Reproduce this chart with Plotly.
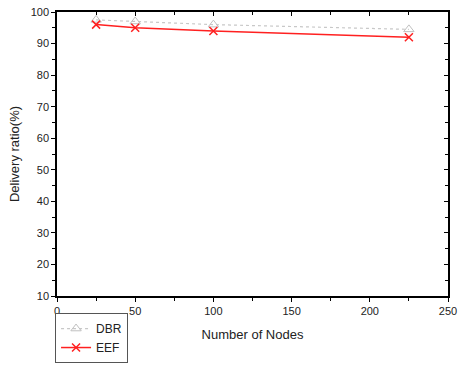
import plotly.graph_objects as go

nodes = [25, 50, 100, 225]
dbr = [97.5, 97, 96, 94.5]
eef = [96, 95, 94, 92]

font = "Liberation Sans, Arial, sans-serif"

fig = go.Figure()
fig.add_trace(go.Scatter(x=nodes, y=dbr, name="DBR", mode="lines+markers",
                         line=dict(color="#c8c8c8", width=1.2, dash="dot"),
                         marker=dict(symbol="triangle-up-open", size=9, color="#c0c0c0",
                                     line=dict(width=1, color="#c0c0c0"))))
fig.add_trace(go.Scatter(x=nodes, y=eef, name="EEF", mode="lines+markers",
                         line=dict(color="#ff2020", width=1.5),
                         marker=dict(symbol="x-thin-open", size=8, color="#ff2020",
                                     line=dict(width=1.5, color="#ff2020"))))
# invisible trace for mirrored axes
fig.add_trace(go.Scatter(x=[0], y=[10], xaxis="x2", yaxis="y2", mode="markers",
                         marker=dict(opacity=0), showlegend=False, hoverinfo="skip"))

axis_common = dict(showgrid=False, zeroline=False, showline=True, linecolor="black",
                   linewidth=1.5, tickcolor="black", ticklen=4, tickwidth=1,
                   automargin=False,
                   tickfont=dict(family=font, size=11, color="#222"))

fig.update_layout(
    width=470, height=375,
    margin=dict(l=57, r=22, t=12, b=70),
    paper_bgcolor="white", plot_bgcolor="white",
    font=dict(family=font, size=12, color="#222"),
    xaxis=dict(range=[0, 250], tickvals=[0, 50, 100, 150, 200, 250], ticks="outside",
               minor=dict(ticks="outside", dtick=25, ticklen=3, tickcolor="black"),
               title=dict(text="Number of Nodes", font=dict(family=font, size=13), standoff=14),
               **axis_common),
    yaxis=dict(range=[10, 100], tickvals=list(range(10, 101, 10)), ticks="outside",
               minor=dict(ticks="outside", dtick=5, ticklen=3, tickcolor="black"),
               title=dict(text="Delivery ratio(%)", font=dict(family=font, size=13), standoff=8),
               **axis_common),
    xaxis2=dict(range=[0, 250], overlaying="x", side="top", anchor="y2", ticks="inside",
                tickvals=[0, 50, 100, 150, 200, 250], showticklabels=False,
                minor=dict(ticks="inside", dtick=25, ticklen=3, tickcolor="black"),
                **axis_common),
    yaxis2=dict(range=[10, 100], overlaying="y", side="right", anchor="x2", ticks="inside",
                tickvals=list(range(10, 101, 10)), showticklabels=False,
                minor=dict(ticks="inside", dtick=5, ticklen=3, tickcolor="black"),
                **axis_common),
    legend=dict(x=-0.005, y=-0.06, xanchor="left", yanchor="top",
                bgcolor="white", bordercolor="#555", borderwidth=1,
                font=dict(family=font, size=12), tracegroupgap=0,
                itemwidth=30),
    showlegend=True,
)

fig.write_html("out.html", config={"displayModeBar": False},
               post_script="document.body.style.margin='0';")
